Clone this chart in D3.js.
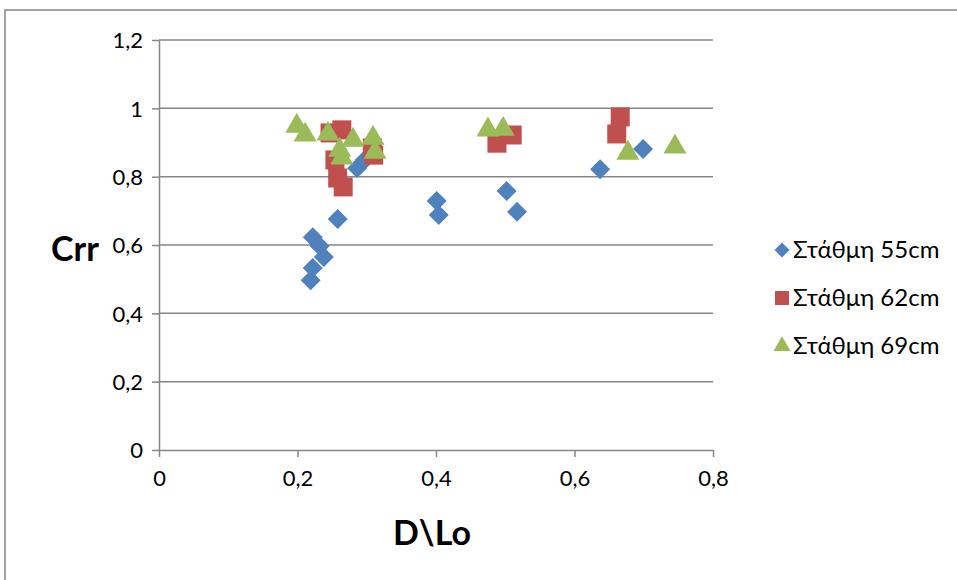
<!DOCTYPE html>
<html>
<head>
<meta charset="utf-8">
<script src="https://cdn.jsdelivr.net/npm/d3@7"></script>
<style>
  body { margin: 0; background: #fff; }
  svg { display: block; font-family: Lato, "Open Sans", "Noto Sans", sans-serif; }
</style>
</head>
<body>
<svg id="chart" width="957" height="580"></svg>
<script>
// series values, [D\Lo, Crr]
var s55 = [[0.219, 0.497], [0.222, 0.533], [0.222, 0.623], [0.232, 0.597], [0.238, 0.565],
           [0.258, 0.676], [0.286, 0.825], [0.297, 0.849], [0.401, 0.729], [0.404, 0.688],
           [0.502, 0.758], [0.517, 0.697], [0.637, 0.822], [0.699, 0.881]];
var s62 = [[0.247, 0.928], [0.264, 0.937], [0.254, 0.849], [0.258, 0.796], [0.266, 0.770],
           [0.308, 0.884], [0.310, 0.863], [0.488, 0.898], [0.510, 0.922], [0.661, 0.925],
           [0.666, 0.975]];
var s69 = [[0.199, 0.948], [0.211, 0.922], [0.244, 0.925], [0.261, 0.878], [0.264, 0.855],
           [0.280, 0.907], [0.309, 0.913], [0.312, 0.872], [0.475, 0.937], [0.497, 0.939],
           [0.677, 0.869], [0.745, 0.887]];

var seriesNames = ["Στάθμη 55cm", "Στάθμη 62cm", "Στάθμη 69cm"];
var xTicks = [0, 0.2, 0.4, 0.6, 0.8];
var yTicks = [0, 0.2, 0.4, 0.6, 0.8, 1, 1.2];
var xLabel = "D\\Lo";
var yLabel = "Crr";

var svg = d3.select("#chart"),
    margin = {top: 40, right: 244, bottom: 130, left: 159},
    width = +svg.attr("width"),
    height = +svg.attr("height");

var grey = "#868686";
var colors = ["#4F81BD", "#C0504D", "#9BBB59"];

// outer chart border
svg.append("rect")
    .attr("x", 5).attr("y", 10)
    .attr("width", 1000).attr("height", 1000)
    .attr("fill", "none")
    .attr("stroke", grey)
    .attr("stroke-width", 1.5);

var x = d3.scaleLinear()
    .domain([0, 0.8])
    .range([margin.left, width - margin.right]);

var y = d3.scaleLinear()
    .domain([0, 1.2])
    .range([height - margin.bottom, margin.top]);

function comma(v) { return String(+v.toFixed(1)).replace(".", ","); }

// horizontal gridlines
svg.append("g")
  .selectAll("line")
  .data(yTicks.slice(1))
  .enter().append("line")
    .attr("x1", x(0)).attr("x2", x(0.8))
    .attr("y1", function(d) { return y(d); })
    .attr("y2", function(d) { return y(d); })
    .attr("stroke", grey)
    .attr("stroke-width", 1.5);

var yAxis = svg.append("g")
    .attr("transform", "translate(" + x(0) + ",0)")
    .call(d3.axisLeft(y).tickValues(yTicks).tickSize(7).tickSizeOuter(0).tickFormat(comma));

var xAxis = svg.append("g")
    .attr("transform", "translate(0," + y(0) + ")")
    .call(d3.axisBottom(x).tickValues(xTicks).tickSize(7).tickSizeOuter(0).tickFormat(comma));

[xAxis, yAxis].forEach(function(a) {
  a.select(".domain").attr("stroke", grey).attr("stroke-width", 1.5);
  a.selectAll(".tick line").attr("stroke", grey).attr("stroke-width", 1.5);
  a.selectAll(".tick text")
      .attr("fill", "#000")
      .style("font-size", "22px")
      .style("font-family", "Lato, 'Open Sans', sans-serif");
});
yAxis.selectAll(".tick text").attr("x", -16).attr("dy", "0.36em");
xAxis.selectAll(".tick text").attr("y", 20);

// axis titles
svg.append("text")
    .attr("x", 75).attr("y", 261)
    .attr("text-anchor", "middle")
    .style("font-size", "34px").style("font-weight", "bold")
    .text(yLabel);

svg.append("text")
    .attr("x", 432).attr("y", 545)
    .attr("text-anchor", "middle")
    .style("font-size", "34px").style("font-weight", "bold")
    .text(xLabel);

// markers
var shapes = [
  function(s) { return d3.symbol().type(d3.symbolSquare).size(s * s / 2)(); },   // diamond, rotated
  function(s) { return d3.symbol().type(d3.symbolSquare).size(s * s)(); },
  function(s) { return d3.symbol().type(d3.symbolTriangle).size(s * s * 0.433)(); }
];
var rot = [45, 0, 0];
var markSize = [20, 19, 23];

var allSeries = [s55, s62, s69];
allSeries.forEach(function(data, i) {
  svg.append("g")
      .attr("fill", colors[i])
    .selectAll("path")
    .data(data)
    .enter().append("path")
      .attr("d", shapes[i](markSize[i]))
      .attr("transform", function(d) {
        return "translate(" + x(d[0]) + "," + y(d[1]) + ") rotate(" + rot[i] + ")";
      });
});

// legend
var legend = svg.append("g")
  .selectAll("g")
  .data(seriesNames)
  .enter().append("g")
    .attr("transform", function(d, i) { return "translate(782," + (250 + i * 48) + ")"; });

legend.append("path")
    .attr("d", function(d, i) { return shapes[i]([15, 14, 17][i]); })
    .attr("transform", function(d, i) { return "rotate(" + rot[i] + ")"; })
    .attr("fill", function(d, i) { return colors[i]; });

legend.append("text")
    .attr("x", 11)
    .attr("dy", "0.35em")
    .style("font-size", "24px")
    .text(function(d) { return d; });
</script>
</body>
</html>
